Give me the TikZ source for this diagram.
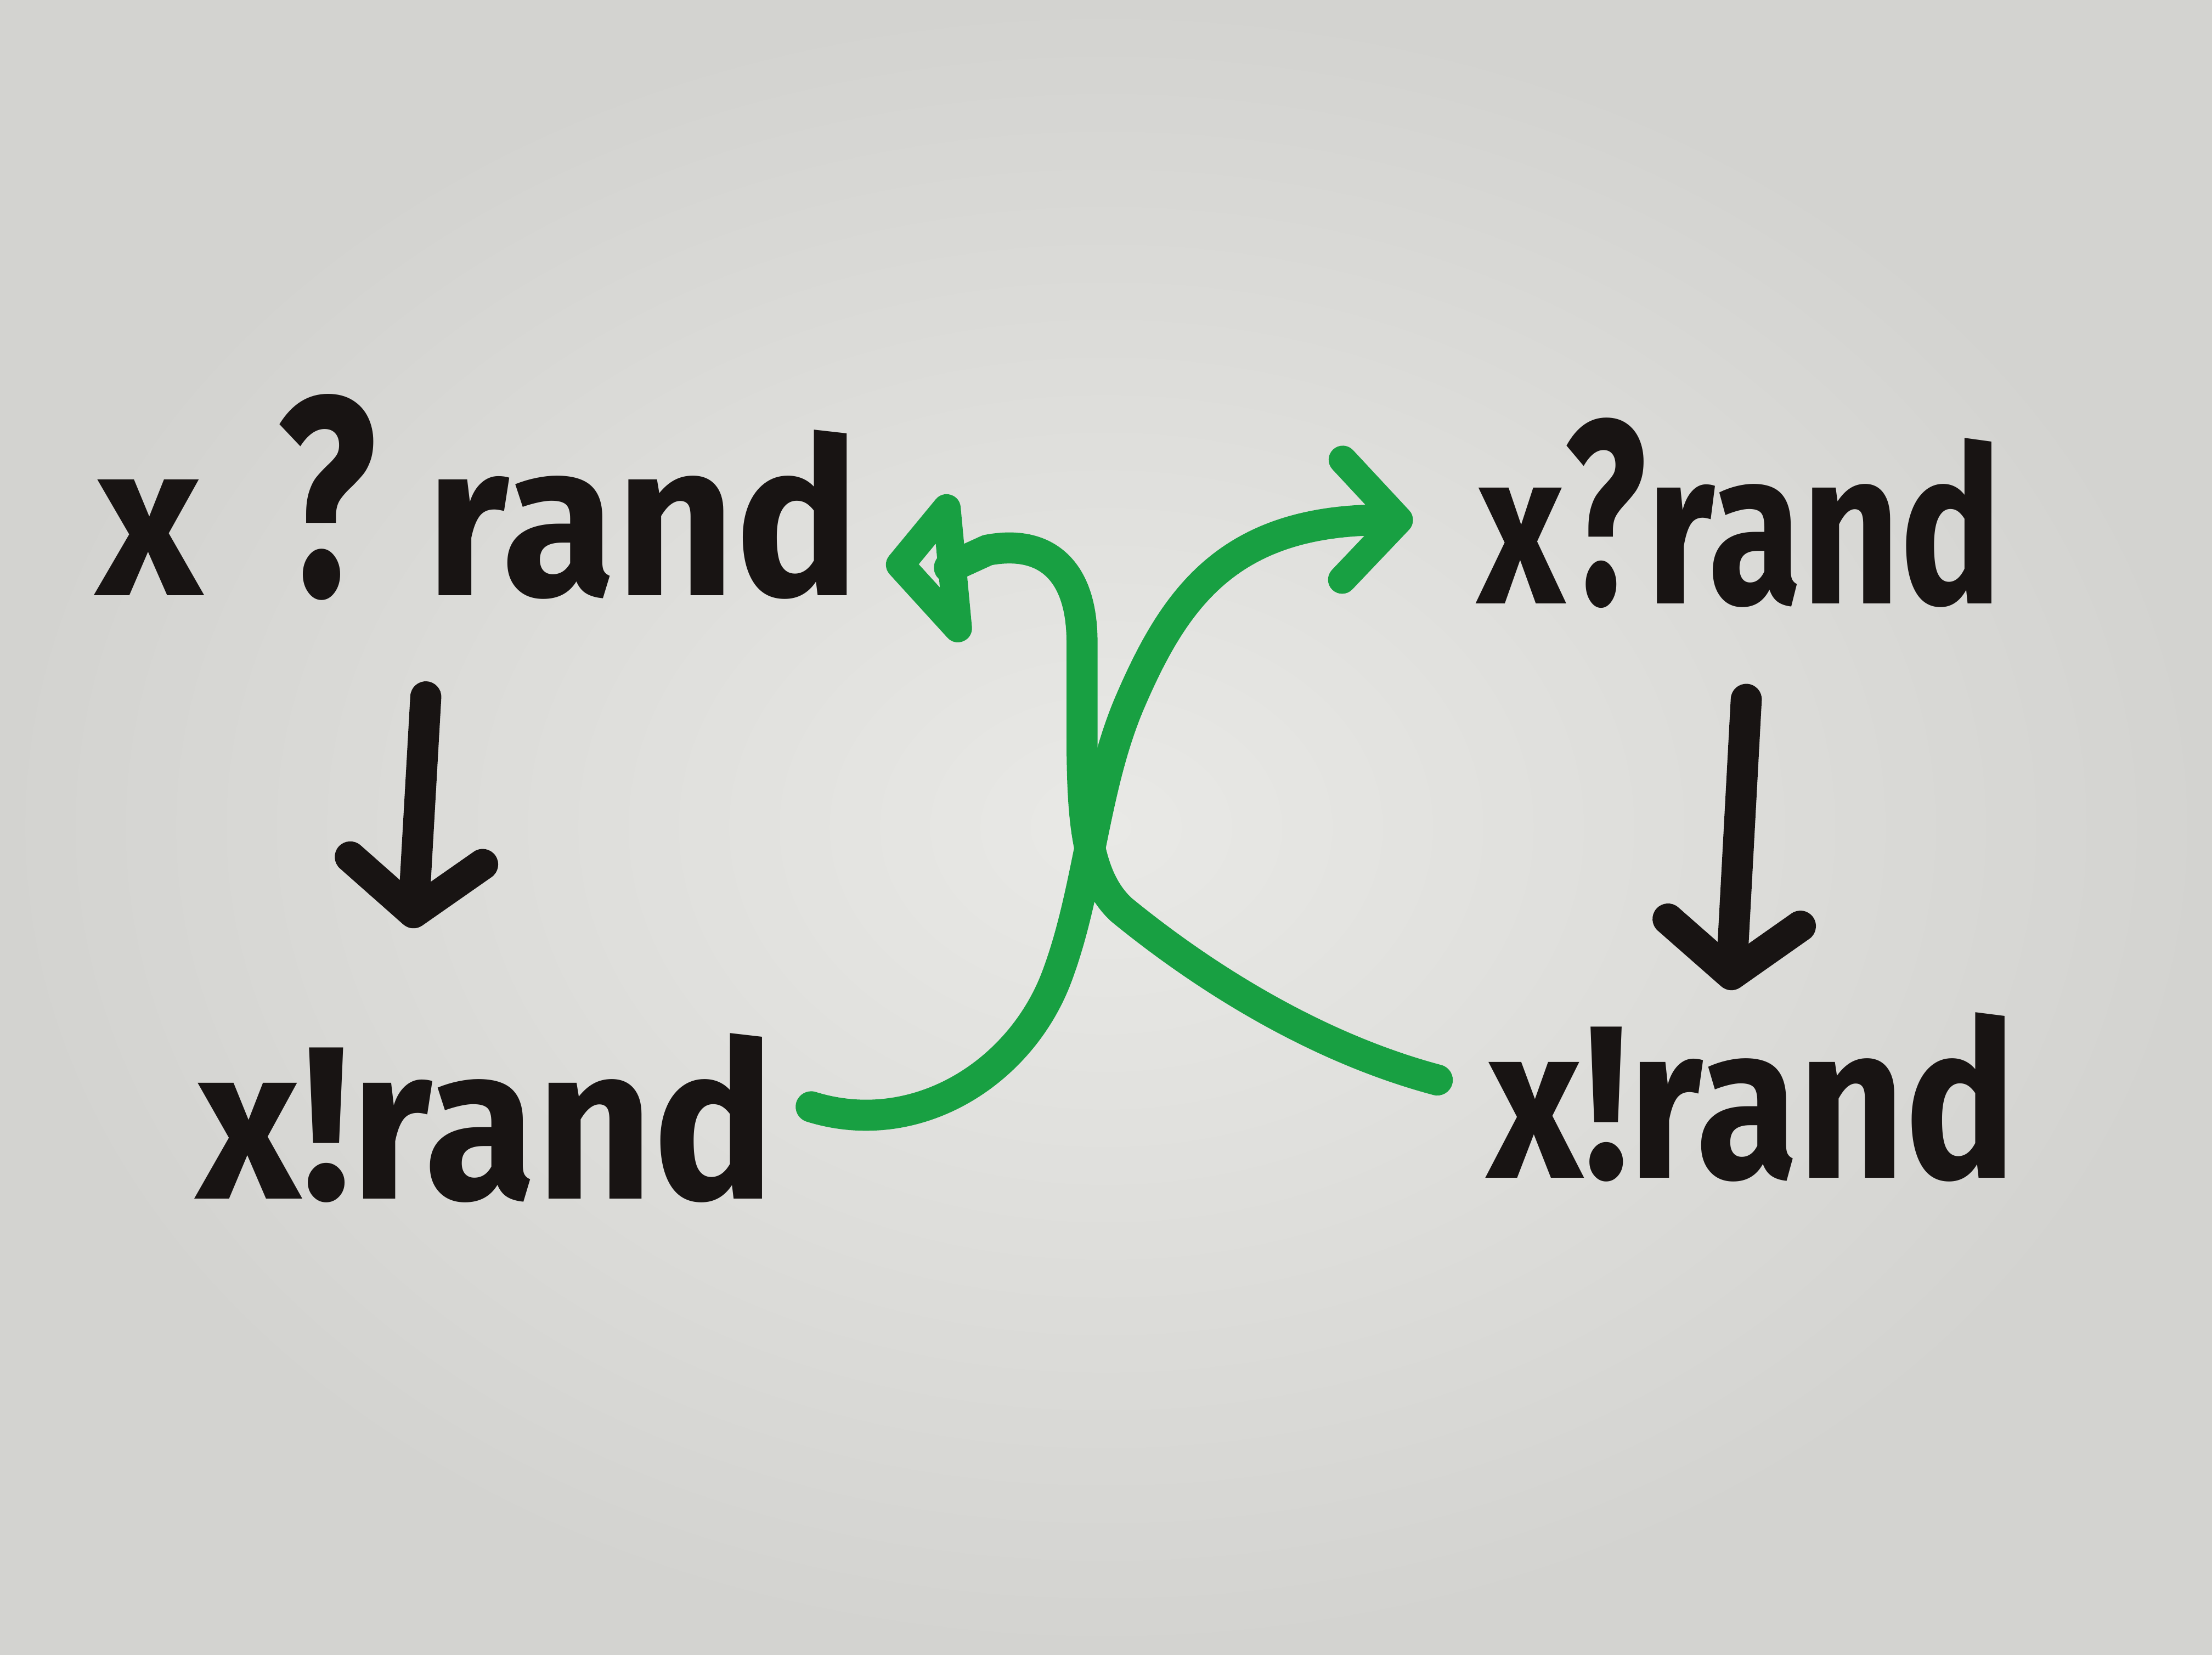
\documentclass[tikz,border=0pt]{standalone}
\usepackage{fontspec}
\usepackage{graphicx}
\setmainfont{Fira Sans}
\usetikzlibrary{arrows.meta,shadings}
\definecolor{bgC}{RGB}{233,233,230}
\definecolor{bgO}{RGB}{211,211,208}
\definecolor{marker}{RGB}{24,20,19}
\definecolor{greenmk}{RGB}{24,160,66}
\begin{document}
\begin{tikzpicture}[x=0.1mm,y=-0.1mm,
  lbl/.style={font=\fontsize{44}{50}\selectfont\bfseries, text=marker, inner sep=0pt, anchor=base east},
  blk/.style={draw=marker, line width=2.2mm, line cap=round,
    -{Straight Barb[length=3.7mm,width=9.4mm,line width=2.2mm,round]}},
  grn/.style={draw=greenmk, line width=2.2mm, line cap=round, line join=round},
  opentri/.style={grn, line width=2mm}]
\shade[inner color=bgC, outer color=bgO] (0,0) rectangle (1568,1173);
\useasboundingbox (0,0) rectangle (1568,1173);

\node[lbl] (A) at (610,422) {\scalebox{0.95}[1]{x\hspace{0.36em}\scalebox{1}[1.3]{?}\hspace{0.24em}rand}};
\node[lbl] (B) at (550,850) {\scalebox{0.93}[1]{x!rand}};
\node[lbl] (C) at (1420,428) {\scalebox{0.78}[1]{x\scalebox{1}[1.2]{?}rand}};
\node[lbl] (D) at (1430,835) {\scalebox{0.85}[1]{x!rand}};

\draw[blk, shorten <=6.8mm, shorten >=7.4mm] ([xshift=-3.3mm]A.south) -- ([xshift=-5.6mm]B.north);
\draw[blk, shorten <=6.4mm, shorten >=1.5mm] ([xshift=0.8mm]C.south) -- ([xshift=-1.6mm]D.north);

% x!rand (left) to x?rand (right)
\draw[grn, -{Straight Barb[length=4mm,width=8.5mm,line width=2mm,round]}]
  ([xshift=2.5mm,yshift=0.8mm]B.east)
  .. controls (650,808) and (725,760) .. (750,690)
  .. controls (772,630) and (775,560) .. (800,500)
  .. controls (832,425) and (870,368) .. ([xshift=-4.5mm,yshift=-0.5mm]C.west);

% x!rand (right) to x?rand (left), ending in an open triangle
\coordinate (tipA) at ([xshift=2.8mm,yshift=-4.8mm]A.east);
\draw[grn]
  ([xshift=-3.5mm,yshift=1.2mm]D.west)
  .. controls (930,742) and (850,690) .. (795,645)
  .. controls (770,622) and (767,580) .. (767,520)
  -- (767,455)
  .. controls (767,405) and (742,382) .. (700,390)
  -- ([xshift=6.3mm,yshift=-5mm]A.east);
\draw[opentri] (tipA) -- ++(33,-40) -- ++(8,85) -- cycle;
\end{tikzpicture}
\end{document}
